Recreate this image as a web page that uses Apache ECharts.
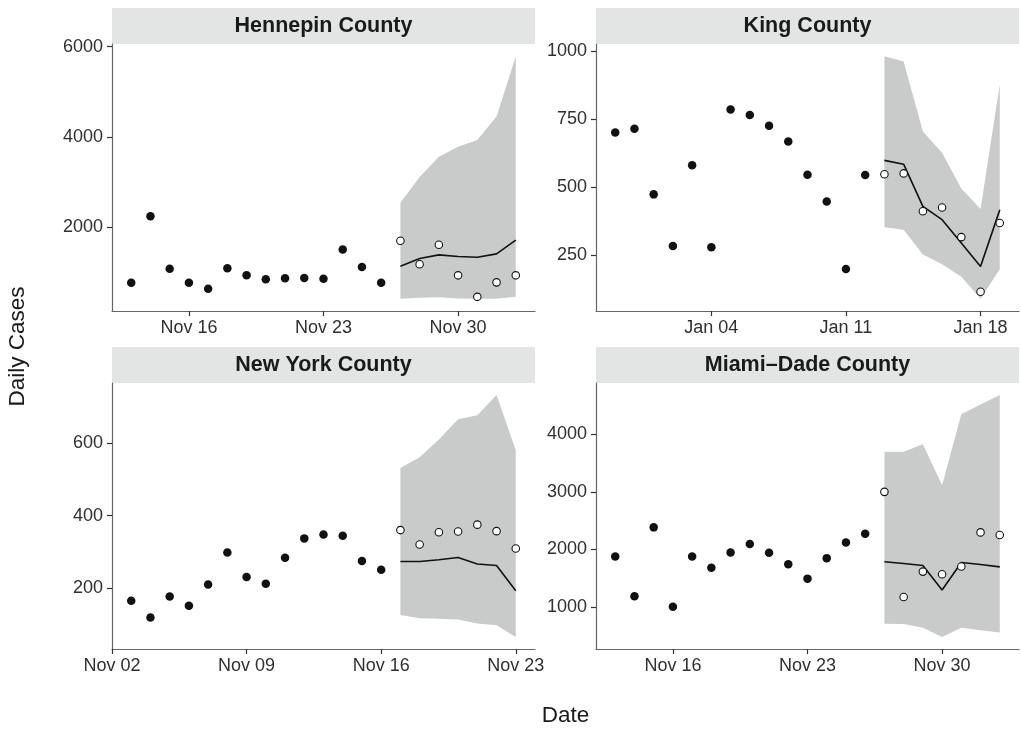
<!DOCTYPE html>
<html>
<head>
<meta charset="utf-8">
<title>Daily Cases by County</title>
<script src="https://cdn.jsdelivr.net/npm/echarts@6/dist/echarts.min.js"></script>
<style>
  html, body { margin: 0; padding: 0; background: #fff; }
  #chart { width: 1021px; height: 730px; }
</style>
</head>
<body>
<div id="chart"></div>
<script>
// ---- Data: 14 observed days, then 7 held-out days with forecast median and interval ----
const hennepinStart = '2020-11-13';
const hennepinObserved = [774, 2245, 1086, 774, 640, 1095, 938, 849, 872, 878, 863, 1510, 1124, 774];
const hennepinHeldOut = [1703, 1184, 1614, 938, 462, 782, 938];
const hennepinMedian = [1139, 1309, 1391, 1354, 1339, 1413, 1719];
const hennepinLower = [417, 439, 455, 426, 417, 417, 462];
const hennepinUpper = [2544, 3115, 3561, 3784, 3933, 4453, 5790];
const hennepinYTicks = [2000, 4000, 6000];
const hennepinXTicks = ['2020-11-16', '2020-11-23', '2020-11-30'];

const kingStart = '2020-12-30';
const kingObserved = [701, 715, 474, 284, 581, 280, 786, 766, 726, 668, 546, 448, 200, 545];
const kingHeldOut = [548, 551, 412, 426, 317, 116, 369];
const kingMedian = [599, 585, 430, 381, 295, 209, 417];
const kingLower = [353, 344, 253, 217, 171, 90, 199];
const kingUpper = [982, 962, 705, 627, 496, 420, 878];
const kingYTicks = [250, 500, 750, 1000];
const kingXTicks = ['2021-01-04', '2021-01-11', '2021-01-18'];

const newYorkStart = '2020-11-03';
const newYorkObserved = [164, 118, 176, 150, 209, 298, 230, 211, 283, 337, 348, 344, 274, 250];
const newYorkHeldOut = [360, 320, 354, 356, 375, 357, 309];
const newYorkMedian = [273, 273, 278, 284, 266, 262, 192];
const newYorkLower = [125, 116, 114, 112, 101, 96, 64];
const newYorkUpper = [532, 562, 611, 667, 678, 734, 581];
const newYorkYTicks = [200, 400, 600];
const newYorkXTicks = ['2020-11-02', '2020-11-09', '2020-11-16', '2020-11-23'];

const miamiStart = '2020-11-13';
const miamiObserved = [1877, 1186, 2383, 1005, 1877, 1680, 1947, 2093, 1941, 1744, 1493, 1849, 2121, 2273];
const miamiHeldOut = [3000, 1174, 1615, 1570, 1703, 2296, 2250];
const miamiMedian = [1785, 1755, 1720, 1296, 1773, 1738, 1697];
const miamiLower = [708, 703, 638, 481, 638, 598, 558];
const miamiUpper = [3698, 3698, 3825, 3116, 4349, 4517, 4680];
const miamiYTicks = [1000, 2000, 3000, 4000];
const miamiXTicks = ['2020-11-16', '2020-11-23', '2020-11-30'];

const panels = [
  { title: 'Hennepin County', start: hennepinStart, observed: hennepinObserved, heldOut: hennepinHeldOut,
    median: hennepinMedian, lower: hennepinLower, upper: hennepinUpper, yTicks: hennepinYTicks, xTicks: hennepinXTicks },
  { title: 'King County', start: kingStart, observed: kingObserved, heldOut: kingHeldOut,
    median: kingMedian, lower: kingLower, upper: kingUpper, yTicks: kingYTicks, xTicks: kingXTicks },
  { title: 'New York County', start: newYorkStart, observed: newYorkObserved, heldOut: newYorkHeldOut,
    median: newYorkMedian, lower: newYorkLower, upper: newYorkUpper, yTicks: newYorkYTicks, xTicks: newYorkXTicks },
  { title: 'Miami\u2013Dade County', start: miamiStart, observed: miamiObserved, heldOut: miamiHeldOut,
    median: miamiMedian, lower: miamiLower, upper: miamiUpper, yTicks: miamiYTicks, xTicks: miamiXTicks }
];

// ---- Layout ----
const FONT = '"Liberation Sans", Arial, Helvetica, sans-serif';
const boxes = [
  { left: 112, top: 44, width: 423, height: 267 },
  { left: 596, top: 44, width: 423, height: 267 },
  { left: 112, top: 383, width: 423, height: 266 },
  { left: 596, top: 383, width: 423, height: 266 }
];
const STRIP_H = 36;
const BAND_COLOR = '#c9caca';
const STRIP_COLOR = '#e3e4e4';
const TICK_FONT = 18;

// ---- Date helpers (day numbers, UTC) ----
const MONTHS = ['Jan', 'Feb', 'Mar', 'Apr', 'May', 'Jun', 'Jul', 'Aug', 'Sep', 'Oct', 'Nov', 'Dec'];
function dayNum(s) {
  const [y, m, d] = s.split('-').map(Number);
  return Date.UTC(y, m - 1, d) / 864e5;
}
function fmtDay(v) {
  const dt = new Date(Math.round(v) * 864e5);
  return MONTHS[dt.getUTCMonth()] + ' ' + String(dt.getUTCDate()).padStart(2, '0');
}

const grids = [], xAxes = [], yAxes = [], series = [], graphics = [];

panels.forEach((p, i) => {
  const b = boxes[i];
  const d0 = dayNum(p.start);
  const obsDays = p.observed.map((_, k) => d0 + k);
  const fcDays = p.heldOut.map((_, k) => d0 + p.observed.length + k);
  const allDays = obsDays.concat(fcDays);

  // 5% padding on both scales
  const xMin = allDays[0], xMax = allDays[allDays.length - 1];
  const xPad = (xMax - xMin) * 0.05;
  const allVals = p.observed.concat(p.heldOut, p.median, p.lower, p.upper);
  const yMin = Math.min(...allVals), yMax = Math.max(...allVals);
  const yPad = (yMax - yMin) * 0.05;

  grids.push({ left: b.left, top: b.top, width: b.width, height: b.height,
    containLabel: false, outerBoundsMode: 'none' });

  const xTickVals = p.xTicks.map(dayNum);
  xAxes.push({
    type: 'value', gridIndex: i, min: xMin - xPad, max: xMax + xPad,
    axisLine: { show: true, onZero: false, lineStyle: { color: '#666', width: 1.2 } },
    axisTick: { show: true, length: 5, customValues: xTickVals, lineStyle: { color: '#333', width: 1.2 } },
    axisLabel: { customValues: xTickVals, formatter: fmtDay, color: '#303030',
      fontFamily: FONT, fontSize: TICK_FONT, margin: 8 },
    splitLine: { show: false }
  });
  yAxes.push({
    type: 'value', gridIndex: i, min: yMin - yPad, max: yMax + yPad,
    axisLine: { show: true, onZero: false, lineStyle: { color: '#666', width: 1.2 } },
    axisTick: { show: true, length: 5, customValues: p.yTicks, lineStyle: { color: '#333', width: 1.2 } },
    axisLabel: { customValues: p.yTicks, formatter: v => String(v), color: '#303030',
      fontFamily: FONT, fontSize: TICK_FONT, margin: 9 },
    splitLine: { show: false }
  });

  // forecast interval band
  series.push({
    type: 'custom', xAxisIndex: i, yAxisIndex: i, silent: true, z: 1,
    data: fcDays.map((d, k) => [d, p.lower[k], p.upper[k]]),
    encode: { x: 0, y: [1, 2] },
    renderItem: (params, api) => {
      if (params.dataIndex !== 0) return { type: 'group', children: [] };
      const top = fcDays.map((d, k) => api.coord([d, p.upper[k]]));
      const bottom = fcDays.map((d, k) => api.coord([d, p.lower[k]])).reverse();
      return { type: 'polygon', shape: { points: top.concat(bottom) },
        style: { fill: BAND_COLOR, stroke: null } };
    }
  });
  // forecast median
  series.push({
    type: 'line', xAxisIndex: i, yAxisIndex: i, z: 2, silent: true,
    data: fcDays.map((d, k) => [d, p.median[k]]),
    symbol: 'none', lineStyle: { color: '#111', width: 1.6 }
  });
  // observed days
  series.push({
    type: 'scatter', xAxisIndex: i, yAxisIndex: i, z: 3, silent: true,
    data: obsDays.map((d, k) => [d, p.observed[k]]),
    symbol: 'circle', symbolSize: 8.5, itemStyle: { color: '#111', opacity: 1 }
  });
  // held-out days
  series.push({
    type: 'scatter', xAxisIndex: i, yAxisIndex: i, z: 4, silent: true,
    data: fcDays.map((d, k) => [d, p.heldOut[k]]),
    symbol: 'circle', symbolSize: 7.5,
    itemStyle: { color: '#fff', borderColor: '#111', borderWidth: 1.1, opacity: 1 }
  });

  // facet strip
  graphics.push({
    type: 'rect', left: b.left, top: b.top - STRIP_H, silent: true,
    shape: { width: b.width, height: STRIP_H }, style: { fill: STRIP_COLOR }
  });
  graphics.push({
    type: 'text', x: b.left + b.width / 2, y: b.top - STRIP_H / 2, silent: true,
    style: { text: p.title, fill: '#1a1a1a', font: 'bold 21.5px ' + FONT,
      textAlign: 'center', textVerticalAlign: 'middle' }
  });
});

// axis titles
graphics.push({
  type: 'text', x: 565.5, y: 716, silent: true,
  style: { text: 'Date', fill: '#1a1a1a', font: '22.5px ' + FONT, textAlign: 'center', textVerticalAlign: 'middle' }
});
graphics.push({
  type: 'text', x: 18, y: 346.5, rotation: Math.PI / 2, silent: true,
  style: { text: 'Daily Cases', fill: '#1a1a1a', font: '22.5px ' + FONT, textAlign: 'center', textVerticalAlign: 'middle' }
});

const chart = echarts.init(document.getElementById('chart'), null, { renderer: 'canvas' });
chart.setOption({
  animation: false,
  backgroundColor: '#fff',
  grid: grids,
  xAxis: xAxes,
  yAxis: yAxes,
  series: series,
  graphic: graphics
});
</script>
</body>
</html>
